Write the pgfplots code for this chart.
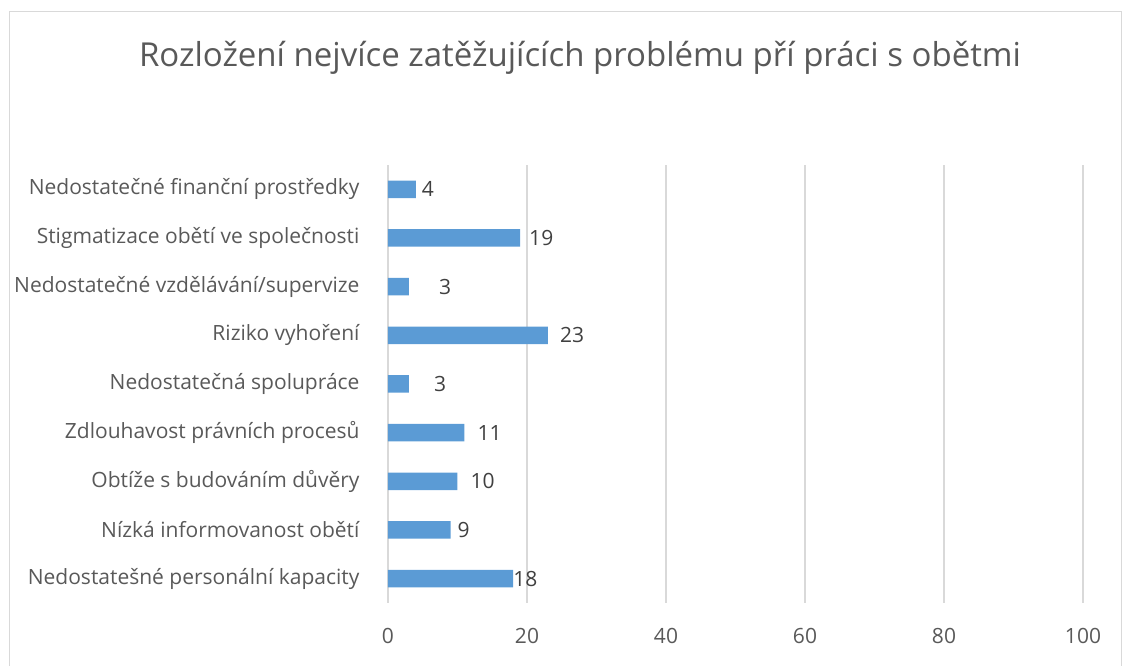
\documentclass[border=0pt]{standalone}
\usepackage{pgfplots}
\pgfplotsset{compat=1.18}
\usepackage{pgfplotstable}
\usepackage{fontspec}
\setmainfont{Open Sans}
\definecolor{barblue}{HTML}{5B9BD5}
\definecolor{txtgray}{HTML}{595959}
\definecolor{lblgray}{HTML}{404040}
\definecolor{gridgray}{HTML}{D9D9D9}
\pgfplotstableread{
y val dx
0 18 0
1 9 7
2 10 13
3 11 13
4 3 25
5 23 12
6 3 30
7 19 9
8 4 6
}\datatab
\begin{document}
\begin{tikzpicture}[x=1pt,y=1pt]
\useasboundingbox (-388,-63) rectangle (744,603);
\draw[gridgray, line width=1pt] (-378,-90) rectangle (733,591);
\node[txtgray, font=\fontsize{33}{40}\selectfont] at (192,545) {Rozložení nejvíce zatěžujících problému pří práci s obětmi};
\begin{axis}[
  at={(0,0)}, anchor=south west,
  scale only axis, width=695pt, height=438pt,
  xmin=0, xmax=100, ymin=-0.5, ymax=8.5,
  xtick={0,20,40,60,80,100},
  ytick={0,...,8},
  yticklabels={Nedostatešné personální kapacity,Nízká informovanost obětí,Obtíže s budováním důvěry,Zdlouhavost právních procesů,Nedostatečná spolupráce,Riziko vyhoření,Nedostatečné vzdělávání/supervize,Stigmatizace obětí ve společnosti,Nedostatečné finanční prostředky},
  axis line style={draw=none},
  major tick length=0pt,
  xmajorgrids, grid style={gridgray, line width=1.2pt},
  tick label style={txtgray, font=\fontsize{21}{25}\selectfont},
  /pgf/number format/assume math mode=true,
  yticklabel style={anchor=east, xshift=-25pt},
  xticklabel style={yshift=-22pt},
  xbar, bar width=17.5pt,
  nodes near coords,
  visualization depends on={\thisrow{dx}\as\dx},
  every node near coord/.append style={anchor=west, inner sep=0pt, xshift=\dx pt, lblgray, font=\fontsize{21}{25}\selectfont},
  point meta=explicit,
  clip=false,
]
\addplot[fill=barblue, draw=none] table[x=val, y=y, meta=val] {\datatab};
\end{axis}
\end{tikzpicture}
\end{document}
